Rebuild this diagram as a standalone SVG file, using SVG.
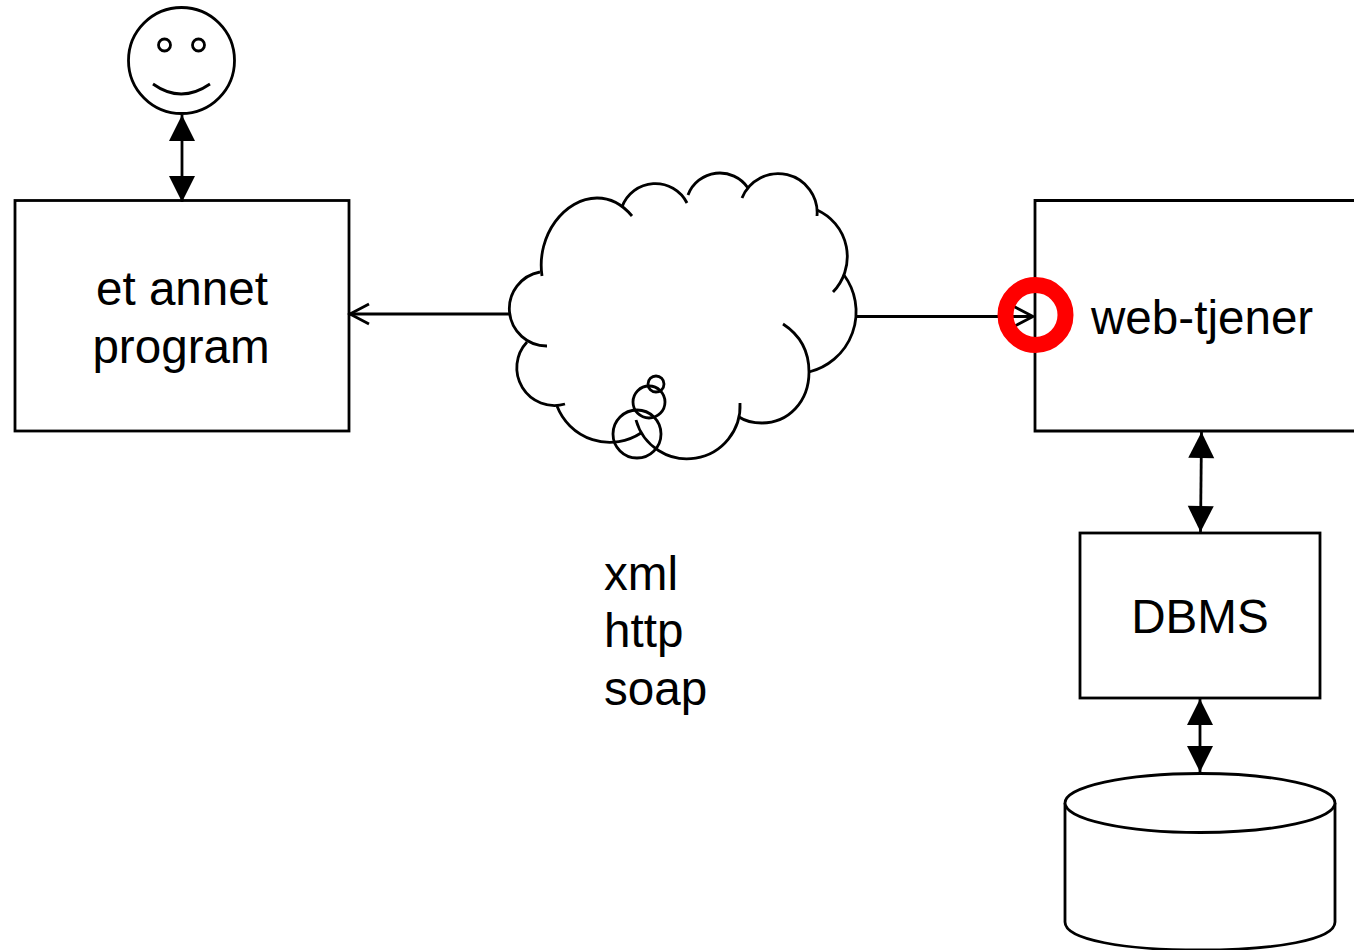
<svg xmlns="http://www.w3.org/2000/svg" width="1354" height="950" viewBox="0 0 1354 950">
<style>
.s{fill:none;stroke:#000;stroke-width:2.8}
.b{fill:#fff;stroke:#000;stroke-width:2.8}
.t{font-family:"Liberation Sans",Arial,sans-serif;font-size:47.6px;fill:#000}
.d{fill:none;stroke:#000;stroke-width:2.8;marker-start:url(#solid);marker-end:url(#solid)}
.o{fill:none;stroke:#000;stroke-width:2.8;marker-end:url(#open)}
</style>
<defs>
<marker id="solid" markerUnits="userSpaceOnUse" markerWidth="28" markerHeight="28" viewBox="0 0 26 28" refX="26" refY="14" orient="auto-start-reverse"><path d="M0 1L26 14L0 27Z" fill="#000"/></marker>
<marker id="open" markerUnits="userSpaceOnUse" markerWidth="24" markerHeight="26" viewBox="0 0 24 26" refX="21" refY="13" orient="auto"><path d="M2 3L21 13L2 23" fill="none" stroke="#000" stroke-width="2.8"/></marker>
</defs>
<rect width="1354" height="950" fill="#fff"/>
<g id="person">
<circle class="b" cx="181.5" cy="60.5" r="53"/>
<circle class="s" cx="164.5" cy="45" r="6"/>
<circle class="s" cx="198.5" cy="45" r="6"/>
<path class="s" d="M153 84Q181 104 210 84"/>
</g>
<g id="program">
<rect class="b" x="15" y="200.500" width="334" height="230.500"/>
<text class="t" x="182" y="305" text-anchor="middle">et annet</text>
<text class="t" x="181" y="363" text-anchor="middle">program</text>
</g>
<g id="web-server">
<path class="b" d="M1358 200.500H1035V431H1358"/>
<text class="t" x="1091" y="334">web-tjener</text>
</g>
<g id="dbms">
<rect class="b" x="1080" y="533" width="240" height="165"/>
<text class="t" x="1200" y="633" text-anchor="middle">DBMS</text>
</g>
<g id="database">
<path class="b" d="M1065 803V922C1065 940 1125 950 1200 950S1335 940 1335 922V803"/>
<ellipse class="b" cx="1200" cy="803" rx="135" ry="29.5"/>
</g>
<g id="cloud" class="s">
<path d="M542 276C536 235 565 198 597 198C610 198 622 204 632 216"/>
<path d="M622 207A35.500 35.500 0 0 1 687 203"/>
<path d="M688 195A34 34 0 0 1 748 188"/>
<path d="M742 198A39 39 0 0 1 817 216"/>
<path d="M817 210A51 51 0 0 1 833 292"/>
<path d="M844 275A62 62 0 0 1 809 372"/>
<path d="M783 324C800 335 809 352 809 372C809 402 788 423 762 423C754 423 745 421 739 417"/>
<path d="M740 403A53 53 0 0 1 636 420"/>
<path d="M641 433A56.600 56.600 0 0 1 557 406"/>
<path d="M565 404A37.700 37.700 0 0 1 527 342"/>
<path d="M547 346A37.300 37.300 0 0 1 540 272"/>
<circle cx="656" cy="384" r="8"/>
<circle cx="649" cy="402" r="16"/>
<circle cx="637" cy="434" r="24"/>
</g>
<g id="labels">
<text class="t" x="604" y="590">xml</text>
<text class="t" x="604" y="647">http</text>
<text class="t" x="604" y="705">soap</text>
</g>
<g id="connectors">
<line class="d" x1="182" y1="115" x2="182" y2="202"/>
<line class="d" x1="1201.5" y1="432" x2="1200.5" y2="532"/>
<line class="d" x1="1200" y1="699" x2="1200" y2="772"/>
<line class="o" x1="510" y1="314" x2="350" y2="314"/>
<line class="o" x1="856" y1="316.500" x2="1033" y2="316.500"/>
</g>
<circle id="highlight" cx="1035.5" cy="315" r="30" fill="none" stroke="#f00" stroke-width="16"/>
</svg>
